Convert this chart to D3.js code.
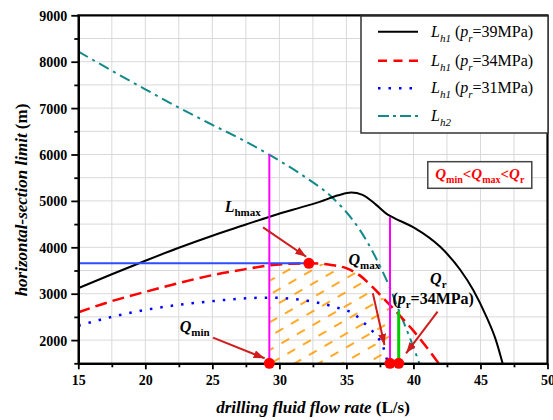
<!DOCTYPE html>
<html><head><meta charset="utf-8">
<script src="https://cdn.jsdelivr.net/npm/d3@7"></script>
<style>body{margin:0;background:#fff}svg{display:block}</style>
</head><body><svg id="c" width="553" height="420" font-family="Liberation Serif"></svg>
<script>
// ---- data ----
const xTicks=[15,20,25,30,35,40,45,50];
const yTicks=[2000,3000,4000,5000,6000,7000,8000,9000];
const xMinor=[17.5,22.5,27.5,32.5,37.5,42.5,47.5];
const yMinor=[1500,2500,3500,4500,5500,6500,7500,8500];

const blackQ=[15,17.5,20,22.5,25,27.5,29.27,31,33,34.4,35.36,36.2,37.2,38.0,38.5,40.07,42.0,43.5,44.46,45.45,46.15,46.65];
const blackL=[3120,3420,3710,3990,4250,4490,4660,4810,4980,5120,5180,5130,4920,4720,4640,4420,4010,3510,3080,2500,2000,1500];

const redQ=[15,17.5,20,22.5,25,27.5,29.27,30.5,32.2,33.97,34.98,35.97,36.96,37.96,38.95,39.94,40.94,41.88];
const redL=[2600,2840,3040,3230,3400,3530,3610,3640,3655,3615,3550,3400,3140,2840,2540,2220,1860,1500];

const blueQ=[15,17.5,20,22.5,25,27.5,29,30,31.26,32.87,34.24,35.6,36.2,36.8,37.34,37.71,38.1];
const blueL=[2310,2500,2650,2760,2840,2900,2915,2910,2880,2805,2705,2555,2400,2235,2060,1875,1500];

const tealQ=[15,17.5,20,22.5,23.8,25,27.28,29.27,31.5,34.0,35.47,36.47,37.46,38.21,38.95,39.7,40.44];
const tealL=[8220,7806,7405,7010,6815,6640,6310,5990,5595,5056,4590,4160,3620,3150,2610,2075,1500];

const Qmin=29.25, Qmax=38.25, Qr=38.9, Lhmax=3655, QLhmax=32.2, Lbottom=1500;
const magentaTopLeft=6000, magentaTopRight=4650, greenTop=2620;

const arrows=[ // [q0,L0,q1,L1]
  [28.78,4431,32.0,3797],
  [25.05,2052,28.9,1608],
  [36.97,3009,37.84,1895],
  [41.8,2612,39.45,1716]
];

const legendItems=[
  {sub:"h1",p:"39",color:"#000",dash:null,w:2},
  {sub:"h1",p:"34",color:"#ff0000",dash:"9,6.5",w:2.5},
  {sub:"h1",p:"31",color:"#0000ff",dash:"2.5,8",w:2.5},
  {sub:"h2",p:null,color:"#138a8a",dash:"11,4,3,4",w:2}
];

// ---- chart ----
const FONT="Liberation Serif";
const svg=d3.select('#c');
const x=d3.scaleLinear().domain([15,50]).range([78.3,547.5]);
const y=d3.scaleLinear().domain([1500,9000]).range([363.3,15.3]);

const defs=svg.append('defs');
const pat=defs.append('pattern').attr('id','hatch').attr('patternUnits','userSpaceOnUse')
  .attr('width',18).attr('height',12).attr('patternTransform','rotate(-30)');
pat.append('line').attr('x1',0).attr('y1',6).attr('x2',9).attr('y2',6)
  .attr('stroke','#ff9a00').attr('stroke-width',1.7);
defs.append('marker').attr('id','arr').attr('markerUnits','userSpaceOnUse')
  .attr('markerWidth',11).attr('markerHeight',8).attr('refX',11).attr('refY',4).attr('orient','auto')
  .append('path').attr('d','M0,0 L11,4 L0,8 z').attr('fill','#d01c1c');

// grid
const g=svg.append('g');
g.selectAll('.vg').data(xMinor.concat(xTicks.slice(1,-1))).enter().append('line')
  .attr('x1',d=>x(d)).attr('x2',d=>x(d)).attr('y1',y(1500)).attr('y2',y(9000))
  .attr('stroke','#d9d9d9').attr('stroke-width',1);
g.selectAll('.hg').data(yMinor.slice(1).concat(yTicks.slice(0,-1))).enter().append('line')
  .attr('y1',d=>y(d)).attr('y2',d=>y(d)).attr('x1',x(15)).attr('x2',x(50))
  .attr('stroke','#d9d9d9').attr('stroke-width',1);

// hatch region (under red curve between Qmin and Qmax)
const redPts=redQ.map((q,i)=>[q,redL[i]]);
defs.append('clipPath').attr('id','redArea').append('path')
  .attr('d',d3.area().x(d=>x(d[0])).y0(y(Lbottom)).y1(d=>y(d[1])).curve(d3.curveMonotoneX)(redPts));
svg.append('rect').attr('x',x(Qmin)+1).attr('y',y(4000)).attr('width',x(Qmax)-x(Qmin)-1).attr('height',y(Lbottom)-y(4000))
  .attr('fill','url(#hatch)').attr('clip-path','url(#redArea)');

const line=d3.line().x(d=>x(d[0])).y(d=>y(d[1])).curve(d3.curveMonotoneX);
function curve(qs,ls,color,w,dash){
  svg.append('path').attr('d',line(qs.map((q,i)=>[q,ls[i]]))).attr('fill','none')
    .attr('stroke',color).attr('stroke-width',w).attr('stroke-dasharray',dash);
}
curve(tealQ,tealL,'#138a8a',2,'11,5,3,5');
curve(blueQ,blueL,'#0000ff',2.5,'2.5,8');
curve(redQ,redL,'#ff0000',2.5,'12,6');
curve(blackQ,blackL,'#000',2,null);

// reference lines
svg.append('line').attr('x1',x(15)).attr('x2',x(QLhmax)).attr('y1',y(Lhmax)).attr('y2',y(Lhmax))
  .attr('stroke','#2d4dff').attr('stroke-width',2);
svg.append('line').attr('x1',x(Qmin)).attr('x2',x(Qmin)).attr('y1',y(magentaTopLeft)).attr('y2',y(Lbottom))
  .attr('stroke','#ff00ff').attr('stroke-width',2);
svg.append('line').attr('x1',x(Qmax)).attr('x2',x(Qmax)).attr('y1',y(magentaTopRight)).attr('y2',y(Lbottom))
  .attr('stroke','#ff00ff').attr('stroke-width',2);
svg.append('line').attr('x1',x(Qr)).attr('x2',x(Qr)).attr('y1',y(greenTop)).attr('y2',y(Lbottom))
  .attr('stroke','#00cc00').attr('stroke-width',3);

// arrows
svg.selectAll('.arw').data(arrows).enter().append('line')
  .attr('x1',d=>x(d[0])).attr('y1',d=>y(d[1])).attr('x2',d=>x(d[2])).attr('y2',d=>y(d[3]))
  .attr('stroke','#d01c1c').attr('stroke-width',2).attr('marker-end','url(#arr)');

// axes
const fmt=d3.format('d');
const ax=svg.append('g').attr('transform',`translate(0,${y(1500)})`);
ax.call(d3.axisBottom(x).tickValues(xMinor).tickSize(4).tickFormat('').tickSizeOuter(0));
const ax2=svg.append('g').attr('transform',`translate(0,${y(1500)})`);
ax2.call(d3.axisBottom(x).tickValues(xTicks).tickSize(6).tickPadding(6).tickFormat(fmt).tickSizeOuter(0));
const ay=svg.append('g').attr('transform',`translate(${x(15)},0)`);
ay.call(d3.axisLeft(y).tickValues(yMinor).tickSize(4).tickFormat('').tickSizeOuter(0));
const ay2=svg.append('g').attr('transform',`translate(${x(15)},0)`);
ay2.call(d3.axisLeft(y).tickValues(yTicks).tickSize(7).tickPadding(4).tickFormat(fmt).tickSizeOuter(0));
[ax,ax2,ay,ay2].forEach(a=>{
  a.attr('font-family',FONT);
  a.selectAll('.domain').attr('stroke','#000').attr('stroke-width',2.2);
  a.selectAll('.tick line').attr('stroke','#000').attr('stroke-width',1.8);
  a.selectAll('text').attr('font-family',FONT).attr('font-size',14).attr('font-weight','bold').attr('fill','#000');
});
ay2.selectAll('text').attr('dy','0.35em');
// top & right borders
svg.append('line').attr('x1',x(15)-1).attr('x2',x(50)+1).attr('y1',y(9000)).attr('y2',y(9000)).attr('stroke','#000').attr('stroke-width',2.2);
svg.append('line').attr('x1',x(50)).attr('x2',x(50)).attr('y1',y(9000)).attr('y2',y(1500)).attr('stroke','#000').attr('stroke-width',2.2);

// dots
const dots=[[QLhmax,Lhmax],[Qmin,Lbottom],[Qmax,Lbottom],[Qr,Lbottom]];
svg.selectAll('.dot').data(dots).enter().append('circle')
  .attr('cx',d=>x(d[0])).attr('cy',d=>y(d[1])).attr('r',5.5).attr('fill','#ff0000');

// axis titles
const xt=svg.append('text').attr('x',313).attr('y',413).attr('text-anchor','middle')
  .attr('font-family',FONT).attr('font-size',17).attr('font-weight','bold');
xt.append('tspan').attr('font-style','italic').text('drilling fluid flow rate');
xt.append('tspan').text(' (L/s)');
const yt=svg.append('text').attr('transform','translate(27,200) rotate(-90)').attr('text-anchor','middle')
  .attr('font-family',FONT).attr('font-size',17).attr('font-weight','bold');
yt.append('tspan').attr('font-style','italic').text('horizontal-section limit');
yt.append('tspan').text(' (m)');

// annotations
function symLabel(q,L,main,sub,size,subSize,color){
  const t=svg.append('text').attr('x',x(q)).attr('y',y(L)).attr('font-weight','bold')
    .attr('font-family',FONT).attr('font-size',size).attr('fill',color||'#000');
  t.append('tspan').attr('font-style','italic').text(main);
  t.append('tspan').attr('font-size',subSize).attr('dy',4).text(sub);
  return t;
}
symLabel(25.92,4770,'L','hmax',16,11);
symLabel(35.16,3620,'Q','max',16,11);
symLabel(22.57,2175,'Q','min',16,11);
symLabel(41.24,3210,'Q','r',16,11);
const pr=svg.append('text').attr('x',x(38.43)).attr('y',y(2780)).attr('font-weight','bold')
  .attr('font-family',FONT).attr('font-size',16);
pr.append('tspan').text('(');
pr.append('tspan').attr('font-style','italic').text('p');
pr.append('tspan').attr('font-size',11).attr('dy',4).text('r');
pr.append('tspan').attr('dy',-4).text('=34MPa)');

// condition box
const boxQ=41.07, boxL=5845;
svg.append('rect').attr('x',x(boxQ)).attr('y',y(boxL)).attr('width',104).attr('height',26.6)
  .attr('fill','#fff').attr('stroke','#444').attr('stroke-width',1.5);
const cb=svg.append('text').attr('x',x(boxQ)+52).attr('y',y(boxL)+17.5).attr('text-anchor','middle')
  .attr('font-family',FONT).attr('font-weight','bold').attr('font-size',15).attr('fill','#ff0000');
['min','max','r'].forEach((s,i)=>{
  if(i>0){cb.append('tspan').attr('dy',-4).text('<');}
  cb.append('tspan').attr('font-style','italic').text('Q');
  cb.append('tspan').attr('font-size',10).attr('dy',4).text(s);
});

// legend
const lg=svg.append('g');
lg.append('rect').attr('x',361).attr('y',16).attr('width',187).attr('height',117)
  .attr('fill','#fff').attr('stroke','#333').attr('stroke-width',1.5);
const rowsY=[31.7,60.7,88.3,116];
legendItems.forEach((it,i)=>{
  lg.append('line').attr('x1',378).attr('x2',418).attr('y1',rowsY[i]).attr('y2',rowsY[i])
    .attr('stroke',it.color).attr('stroke-width',it.w).attr('stroke-dasharray',it.dash);
  const t=lg.append('text').attr('x',431).attr('y',rowsY[i]+5).attr('font-family',FONT).attr('font-size',16);
  t.append('tspan').attr('font-style','italic').text('L');
  t.append('tspan').attr('font-style','italic').attr('font-size',11).attr('dy',5).text(it.sub);
  if(it.p){
    t.append('tspan').attr('dy',-5).text(' (');
    t.append('tspan').attr('font-style','italic').text('p');
    t.append('tspan').attr('font-style','italic').attr('font-size',11).attr('dy',5).text('r');
    t.append('tspan').attr('dy',-5).text('='+it.p+'MPa)');
  }
});
</script></body></html>
